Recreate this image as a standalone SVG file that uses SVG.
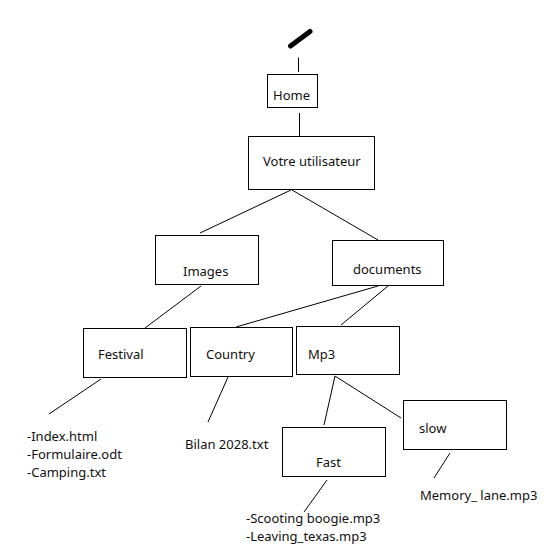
<svg xmlns="http://www.w3.org/2000/svg" width="548" height="560" viewBox="0 0 548 560">
<style>
.box{fill:#fff;stroke:#000;stroke-width:1}
.ln{stroke:#000;stroke-width:1;fill:none}
text{font-family:"Noto Sans","Open Sans",sans-serif;font-size:13px;fill:#111}
</style>
<rect width="548" height="560" fill="#fff"/>
<g id="connectors">
<line x1="290.5" y1="46" x2="310" y2="31.5" stroke="#000" stroke-width="5" stroke-linecap="round"/>
<line class="ln" x1="298.5" y1="57.5" x2="298.5" y2="72"/>
<line class="ln" x1="299.5" y1="113" x2="299.5" y2="136"/>
<line class="ln" x1="291" y1="190" x2="200" y2="233"/>
<line class="ln" x1="292" y1="190" x2="378" y2="240"/>
<line class="ln" x1="201" y1="286" x2="145" y2="328"/>
<line class="ln" x1="378" y1="286" x2="236" y2="327"/>
<line class="ln" x1="388" y1="286" x2="341" y2="325"/>
<line class="ln" x1="101" y1="379" x2="49" y2="414"/>
<line class="ln" x1="228" y1="377" x2="208" y2="422"/>
<line class="ln" x1="335" y1="376" x2="324" y2="425"/>
<line class="ln" x1="335" y1="376" x2="401" y2="418"/>
<line class="ln" x1="327" y1="480" x2="304" y2="512"/>
<line class="ln" x1="450" y1="453" x2="434" y2="478"/>
</g>
<g id="home"><rect class="box" x="267.5" y="74.5" width="50" height="33"/><text x="273" y="100">Home</text></g>
<g id="votre"><rect class="box" x="248.5" y="136.5" width="126" height="53"/><text x="263" y="166">Votre utilisateur</text></g>
<g id="images"><rect class="box" x="155.5" y="235.5" width="103" height="49"/><text x="183" y="276">Images</text></g>
<g id="documents"><rect class="box" x="332.5" y="240.5" width="111" height="45"/><text x="353" y="274">documents</text></g>
<g id="festival"><rect class="box" x="83.5" y="328.5" width="103" height="49"/><text x="98" y="359">Festival</text></g>
<g id="country"><rect class="box" x="190.5" y="327.5" width="102" height="49"/><text x="206" y="359">Country</text></g>
<g id="mp3"><rect class="box" x="296.5" y="326.5" width="103" height="48"/><text x="308" y="359">Mp3</text></g>
<g id="slow"><rect class="box" x="403.5" y="400.5" width="103" height="49"/><text x="419" y="433">slow</text></g>
<g id="fast"><rect class="box" x="282.5" y="427.5" width="103" height="49"/><text x="316" y="466.5">Fast</text></g>
<g id="festival-files"><text x="27" y="440.5">-Index.html</text><text x="27" y="459">-Formulaire.odt</text><text x="27" y="477">-Camping.txt</text></g>
<g id="country-files"><text x="185" y="448.5">Bilan 2028.txt</text></g>
<g id="slow-files"><text x="420" y="500">Memory_ lane.mp3</text></g>
<g id="fast-files"><text x="246" y="523">-Scooting boogie.mp3</text><text x="246" y="541">-Leaving_texas.mp3</text></g>
</svg>
